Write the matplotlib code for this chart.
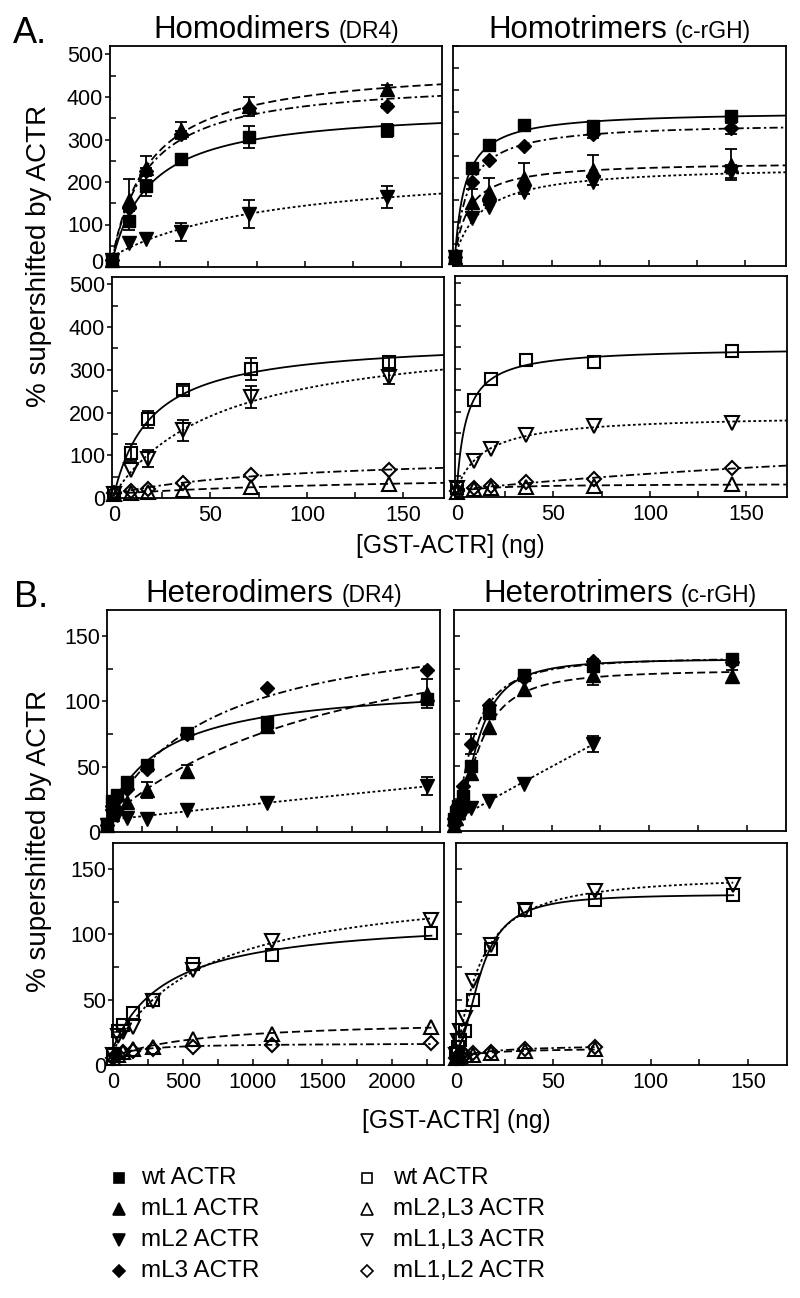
import numpy as np
import matplotlib
matplotlib.use("Agg")
import matplotlib.pyplot as plt
import matplotlib.transforms as mtransforms
from matplotlib.lines import Line2D
from matplotlib.ticker import MultipleLocator

plt.rcParams['font.family'] = ['Liberation Sans', 'DejaVu Sans']

# ------------------------------------------------------------------ data
x_homo = [0, 8.9, 17.8, 35.6, 71.2, 142.4]          # ng GST-ACTR (panel A)
x_hdim = [0, 35.6, 71.2, 142.5, 285, 570, 1140, 2280]  # ng (panel B, DR4)
x_htri = [0, 1.1, 2.2, 4.45, 8.9, 17.8, 35.6, 71.2, 142.4]  # ng (panel B, c-rGH)

legend_filled = ["wt ACTR", "mL1 ACTR", "mL2 ACTR", "mL3 ACTR"]
legend_open = ["wt ACTR", "mL2,L3 ACTR", "mL1,L3 ACTR", "mL1,L2 ACTR"]

# A, Homodimers (DR4), filled symbols
hd_wt = [17, 109, 190, 255, 306, 322]
hd_wt_err = [0, 22, 24, 10, 25, 15]
hd_mL1 = [17, 157, 233, 322, 378, 418]
hd_mL1_err = [0, 50, 28, 20, 23, 10]
hd_mL2 = [17, 57, 65, 82, 125, 165]
hd_mL2_err = [0, 0, 0, 21, 33, 26]
hd_mL3 = [17, 140, 226, 312, 373, 378]
hd_mL3_err = [0, 0, 8, 8, 0, 5]

# A, Homotrimers (c-rGH), filled symbols
ht_wt = [20, 222, 275, 320, 318, 341]
ht_wt_err = [0, 0, 0, 0, 12, 8]
ht_mL1 = [20, 146, 169, 199, 218, 230]
ht_mL1_err = [0, 30, 30, 35, 35, 35]
ht_mL2 = [20, 108, 133, 169, 192, 214]
ht_mL2_err = [0, 0, 0, 0, 0, 15]
ht_mL3 = [20, 192, 241, 273, 301, 313]
ht_mL3_err = [0, 0, 0, 0, 10, 12]

# A, Homodimers (DR4), open symbols
hdo_wt = [12, 106, 184, 252, 302, 317]
hdo_wt_err = [0, 20, 20, 10, 25, 15]
hdo_L23 = [10, 12, 15, 18, 26, 33]
hdo_L23_err = [0, 0, 0, 0, 0, 0]
hdo_L13 = [10, 65, 92, 158, 236, 282]
hdo_L13_err = [0, 0, 20, 25, 25, 15]
hdo_L12 = [12, 17, 22, 36, 54, 65]
hdo_L12_err = [0, 0, 0, 0, 0, 0]

# A, Homotrimers (c-rGH), open symbols
hto_wt = [22, 226, 276, 320, 316, 341]
hto_L23 = [12, 19, 22, 24, 26, 30]
hto_L13 = [20, 85, 113, 144, 166, 174]
hto_L12 = [15, 22, 25, 34, 43, 67]

# B, Heterodimers (DR4), filled symbols
bd_wt = [6, 24, 28, 38, 51, 76, 84, 102]
bd_wt_err = [0, 0, 0, 0, 3, 0, 4, 3]
bd_mL1 = [5, 14, 19, 23, 32, 47, 81, 106]
bd_mL1_err = [0, 0, 0, 0, 6, 4, 3, 11]
bd_mL2 = [5, 12, 13, 11, 10, 17, 22, 35]
bd_mL2_err = [0, 0, 0, 0, 0, 0, 0, 7]
bd_mL3 = [5, 20, 25, 33, 48, 75, 110, 124]
bd_mL3_err = [0, 0, 0, 0, 0, 0, 0, 0]

# B, Heterotrimers (c-rGH), filled symbols (mL2 measured up to 71.2 ng)
bt_wt = [9, 15, 19, 27, 50, 91, 120, 127, 132]
bt_wt_err = [0, 0, 0, 0, 4, 4, 0, 5, 4]
bt_mL1 = [5, 10, 15, 22, 45, 80, 109, 120, 119]
bt_mL1_err = [0, 0, 0, 0, 5, 0, 0, 8, 5]
bt_mL2 = [5, 8, 10, 14, 18, 23, 36, 67]
bt_mL2_err = [0, 0, 0, 0, 0, 0, 0, 6]
bt_mL3 = [5, 12, 20, 35, 67, 97, 118, 131, 130]
bt_mL3_err = [0, 0, 0, 0, 8, 0, 0, 0, 0]

# B, Heterodimers (DR4), open symbols
bdo_wt = [8, 26, 31, 40, 50, 77, 84, 101]
bdo_L23 = [5, 8, 10, 12, 14, 20, 24, 29]
bdo_L13 = [8, 22, 25, 29, 49, 73, 95, 111]
bdo_L12 = [5, 8, 10, 11, 12, 14, 15, 17]

# B, Heterotrimers (c-rGH), open symbols (mL2,L3 / mL1,L2 up to 71.2 ng)
bto_wt = [9, 14, 19, 26, 50, 89, 119, 126, 130]
bto_L23 = [5, 6, 7, 8, 8, 9, 11, 12]
bto_L13 = [8, 18, 26, 36, 64, 92, 119, 133, 138]
bto_L12 = [5, 6, 7, 8, 9, 10, 12, 14]

# ------------------------------------------------------------------ styles
W, H = 800, 1298
fig = plt.figure(figsize=(W / 100, H / 100), dpi=100)

LW = 1.3
STYLES = [
    dict(marker='s', ms=9.3, dashes=None),
    dict(marker='^', ms=10.5, dashes=(4.5, 2.2)),
    dict(marker='v', ms=10.5, dashes=(1.5, 1.4)),
    dict(marker='D', ms=7.5, dashes=(4.5, 1.8, 1.3, 1.8)),
]


def rect(l, r, t, b):
    return [l / W, 1 - b / H, (r - l) / W, (b - t) / H]


def fit_curve(x, y, ns, x_end):
    x = np.asarray(x, float)
    y = np.asarray(y, float)
    best = None
    Ks = np.logspace(np.log10(x.max() / 300), np.log10(x.max() * 30), 400)
    for n in ns:
        for K in Ks:
            f = x ** n / (K ** n + x ** n)
            A = np.column_stack([np.ones_like(x), f])
            coef, *_ = np.linalg.lstsq(A, y, rcond=None)
            sse = np.sum((A @ coef - y) ** 2)
            if best is None or sse < best[0]:
                best = (sse, n, K, coef)
    _, n, K, coef = best
    xs = np.linspace(0, x_end, 500)
    return xs, coef[0] + coef[1] * xs ** n / (K ** n + xs ** n)


def draw_series(ax, x, y, err, idx, filled, ns, x_end):
    st = STYLES[idx]
    x = list(x)[:len(y)]
    xs, ys = fit_curve(x, y, ns, x_end)
    kw = dict(color='k', lw=LW, zorder=2)
    if st['dashes'] is None:
        ax.plot(xs, ys, ls='-', **kw)
    else:
        ax.plot(xs, ys, ls='--', dashes=st['dashes'], **kw)
    if err is not None:
        xe = [xi for xi, e in zip(x, err) if e > 0]
        ye = [yi for yi, e in zip(y, err) if e > 0]
        ee = [e for e in err if e > 0]
        if xe:
            ax.errorbar(xe, ye, yerr=ee, fmt='none', ecolor='k', elinewidth=1.3,
                        capsize=4, capthick=1.3, zorder=3, clip_on=False)
    ax.plot(x, y, ls='none', marker=st['marker'], ms=st['ms'],
            mfc='k' if filled else 'none', mec='k', mew=1.5 if not filled else 1.0,
            zorder=4, clip_on=False)


def style_axes(ax, xlim, ylim, xmaj, xmin, ymaj, ymin, xlabels, ylabels):
    ax.set_xlim(*xlim)
    ax.set_ylim(*ylim)
    for s in ax.spines.values():
        s.set_linewidth(1.3)
    ax.xaxis.set_major_locator(MultipleLocator(xmaj))
    ax.xaxis.set_minor_locator(MultipleLocator(xmin))
    ax.yaxis.set_major_locator(MultipleLocator(ymaj))
    ax.yaxis.set_minor_locator(MultipleLocator(ymin))
    ax.tick_params(axis='x', which='both', direction='in', length=4, width=1.1,
                   labelsize=15.5, pad=5, labelbottom=xlabels)
    if ylabels:
        ax.tick_params(axis='y', which='major', direction='out', length=3.5, width=1.1,
                       labelsize=15.5, pad=1.5)
        ax.tick_params(axis='y', which='minor', direction='in', length=4, width=1.1)
    else:
        ax.tick_params(axis='y', which='both', direction='in', length=4, width=1.1,
                       labelleft=False)
        ax.yaxis.set_major_locator(MultipleLocator(ymin))


# ------------------------------------------------------------------ panel A
axA1 = fig.add_axes(rect(110, 442, 46, 267))
axA2 = fig.add_axes(rect(453, 786, 46, 266))
axA3 = fig.add_axes(rect(112, 444, 277, 498))
axA4 = fig.add_axes(rect(455, 787, 276, 497))

for i, (y, e) in enumerate([(hd_wt, hd_wt_err), (hd_mL1, hd_mL1_err),
                            (hd_mL2, hd_mL2_err), (hd_mL3, hd_mL3_err)]):
    draw_series(axA1, x_homo, y, e, i, True, [1], 171)
for i, (y, e) in enumerate([(ht_wt, ht_wt_err), (ht_mL1, ht_mL1_err),
                            (ht_mL2, ht_mL2_err), (ht_mL3, ht_mL3_err)]):
    draw_series(axA2, x_homo, y, e, i, True, [1], 171)
for i, (y, e) in enumerate([(hdo_wt, hdo_wt_err), (hdo_L23, hdo_L23_err),
                            (hdo_L13, hdo_L13_err), (hdo_L12, hdo_L12_err)]):
    draw_series(axA3, x_homo, y, e, i, False, [1], 171)
for i, y in enumerate([hto_wt, hto_L23, hto_L13, hto_L12]):
    draw_series(axA4, x_homo, y, None, i, False, [1], 171)

style_axes(axA1, (-1, 171), (0, 520), 50, 25, 100, 50, False, True)
style_axes(axA2, (-1, 171), (0, 500), 50, 25, 100, 50, False, False)
style_axes(axA3, (-1, 171), (0, 517), 50, 25, 100, 50, True, True)
style_axes(axA4, (-1, 171), (0, 517), 50, 25, 100, 50, True, False)

# ------------------------------------------------------------------ panel B
axB1 = fig.add_axes(rect(107, 440, 610, 832))
axB2 = fig.add_axes(rect(454, 786, 610, 831))
axB3 = fig.add_axes(rect(113, 444, 843, 1065))
axB4 = fig.add_axes(rect(456, 787, 843, 1065))

NS = [1, 1.25, 1.5, 1.75, 2.0, 2.5]
for i, (y, e) in enumerate([(bd_wt, bd_wt_err), (bd_mL1, bd_mL1_err),
                            (bd_mL2, bd_mL2_err), (bd_mL3, bd_mL3_err)]):
    draw_series(axB1, x_hdim, y, e, i, True, NS, x_hdim[len(y) - 1])
for i, (y, e) in enumerate([(bt_wt, bt_wt_err), (bt_mL1, bt_mL1_err),
                            (bt_mL2, bt_mL2_err), (bt_mL3, bt_mL3_err)]):
    draw_series(axB2, x_htri, y, e, i, True, NS, x_htri[len(y) - 1])
for i, y in enumerate([bdo_wt, bdo_L23, bdo_L13, bdo_L12]):
    draw_series(axB3, x_hdim, y, None, i, False, NS, x_hdim[len(y) - 1])
for i, y in enumerate([bto_wt, bto_L23, bto_L13, bto_L12]):
    draw_series(axB4, x_htri, y, None, i, False, NS, x_htri[len(y) - 1])

style_axes(axB1, (0, 2375), (0, 170), 500, 250, 50, 25, False, True)
style_axes(axB2, (0, 170), (0, 170), 50, 25, 50, 25, False, False)
style_axes(axB3, (0, 2370), (0, 170), 500, 250, 50, 25, True, True)
style_axes(axB4, (0, 170), (0, 170), 50, 25, 50, 25, True, False)

# lift the "0" label of the upper A panel a little, as in the reference
fig.canvas.draw()
shift = mtransforms.ScaledTranslation(0, 6 / 100, fig.dpi_scale_trans)
for lab in axA1.get_yticklabels():
    if lab.get_text() == '0':
        lab.set_transform(lab.get_transform() + shift)

# ------------------------------------------------------------------ texts
renderer = fig.canvas.get_renderer()


def two_part_title(ax, main, sub, base_px, gap=8):
    y = 1 - base_px / H
    t1 = fig.text(0, y, main, fontsize=22.5, va='baseline', ha='left')
    t2 = fig.text(0, y, sub, fontsize=16.5, va='baseline', ha='left')
    w1 = t1.get_window_extent(renderer).width
    w2 = t2.get_window_extent(renderer).width
    bb = ax.get_position()
    cx = (bb.x0 + bb.x1) / 2 * W
    x0 = cx - (w1 + gap + w2) / 2
    t1.set_x(x0 / W)
    t2.set_x((x0 + w1 + gap) / W)


two_part_title(axA1, "Homodimers", "(DR4)", 38)
two_part_title(axA2, "Homotrimers", "(c-rGH)", 38)
two_part_title(axB1, "Heterodimers", "(DR4)", 602)
two_part_title(axB2, "Heterotrimers", "(c-rGH)", 602)

fig.text(13 / W, 1 - 43 / H, "A.", fontsize=26, va='baseline', ha='left')
fig.text(14 / W, 1 - 607 / H, "B.", fontsize=26, va='baseline', ha='left')

fig.text(39 / W, 1 - 256 / H, "% supershifted by ACTR", fontsize=20,
         rotation=90, ha='center', va='center')
fig.text(39 / W, 1 - 841 / H, "% supershifted by ACTR", fontsize=20,
         rotation=90, ha='center', va='center')

fig.text(450 / W, 1 - 553 / H, "[GST-ACTR] (ng)", fontsize=17.7,
         ha='center', va='baseline')
fig.text(456 / W, 1 - 1128 / H, "[GST-ACTR] (ng)", fontsize=17.7,
         ha='center', va='baseline')

# legend
rows_y = [1178, 1209, 1240, 1271]
for col, (labels, filled, mx, tx) in enumerate([(legend_filled, True, 119, 141),
                                                 (legend_open, False, 367, 393)]):
    for i, lab in enumerate(labels):
        st = STYLES[i]
        yy = 1 - rows_y[i] / H
        fig.add_artist(Line2D([mx / W], [yy], transform=fig.transFigure,
                              marker=st['marker'], ms=st['ms'] * 0.85,
                              mfc='k' if filled else 'none', mec='k',
                              mew=1.2, ls='none'))
        fig.text(tx / W, yy, lab, fontsize=17.5, ha='left', va='center')

fig.savefig("out.png", dpi=100)
